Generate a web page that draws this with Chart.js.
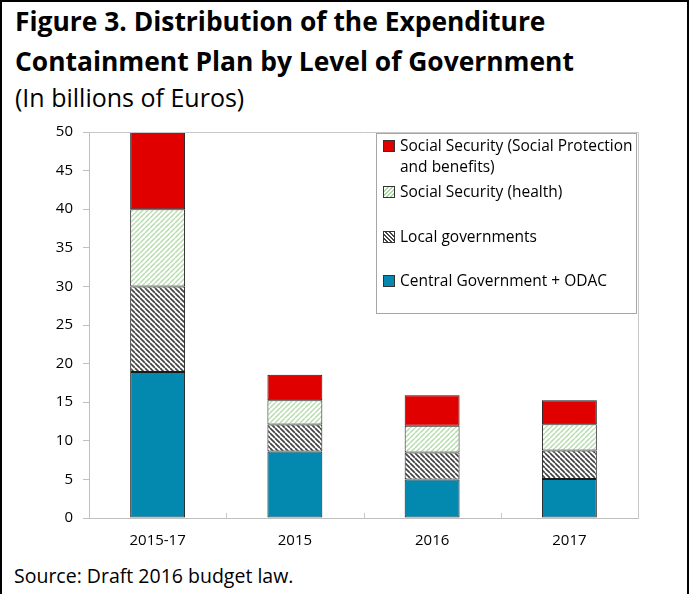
<!DOCTYPE html>
<html>
<head>
<meta charset="utf-8">
<script src="https://cdn.jsdelivr.net/npm/chart.js@4"></script>
<style>
  html, body { margin: 0; padding: 0; background: #fff; }
  #frame {
    position: relative; width: 689px; height: 594px; box-sizing: border-box;
    border-top: 2px solid #000; border-left: 2px solid #000; border-right: 2px solid #000;
    font-family: "Open Sans", "Noto Sans", sans-serif; color: #000; overflow: hidden;
  }
  .title { position: absolute; left: 13px; top: -1px; font-size: 26.4px; font-weight: bold; line-height: 40px; }
  .sub { position: absolute; left: 13px; top: 78px; font-size: 25px; }
  .source { position: absolute; left: 12px; top: 560px; font-size: 19.5px; }
  #wrap { position: absolute; left: -2px; top: 111px; width: 689px; height: 443px; }
  #legend {
    position: absolute; left: 374px; top: 131px; width: 261px; height: 181px;
    border: 1px solid #a6a6a6; background: #fff; font-size: 15.5px; box-sizing: border-box;
  }
  .item { position: absolute; left: 6px; display: flex; align-items: flex-start; line-height: 21px; }
  .sw { width: 10px; height: 10px; border: 1px solid #333; margin-top: 5px; margin-right: 5px; flex: none; }
</style>
</head>
<body>
<div id="frame">
  <div class="title">Figure 3. Distribution of the Expenditure<br>Containment Plan by Level of Government</div>
  <div class="sub">(In billions of Euros)</div>
  <div id="wrap"><canvas id="chart" width="689" height="443"></canvas></div>
  <div id="legend"></div>
  <div class="source">Source: Draft 2016 budget law.</div>
</div>
<script>
const categories = ['2015-17', '2015', '2016', '2017'];
const centralGov = [18.9, 8.6, 5.0, 5.05];
const localGov = [11.1, 3.5, 3.5, 3.7];
const socialHealth = [10, 3.15, 3.45, 3.4];
const socialProtection = [10, 3.3, 3.95, 3.1];
const yTicks = [0, 5, 10, 15, 20, 25, 30, 35, 40, 45, 50];

function stripes(color, dir, w) {
  const c = document.createElement('canvas');
  c.width = 5; c.height = 5;
  const g = c.getContext('2d');
  g.fillStyle = '#fff';
  g.fillRect(0, 0, 5, 5);
  g.strokeStyle = color;
  g.lineWidth = w;
  for (let k = -1; k <= 1; k++) {
    g.beginPath();
    if (dir > 0) { g.moveTo(k * 5, 5); g.lineTo(k * 5 + 5, 0); }
    else { g.moveTo(k * 5, 0); g.lineTo(k * 5 + 5, 5); }
    g.stroke();
  }
  return g.createPattern(c, 'repeat');
}

const ctx = document.getElementById('chart').getContext('2d');

const frameLines = {
  id: 'frameLines',
  afterDatasetsDraw(chart) {
    const a = chart.chartArea, g = chart.ctx;
    g.save();
    g.strokeStyle = '#c8c8c8';
    g.lineWidth = 1;
    g.beginPath();
    g.moveTo(a.left, a.top + 0.5); g.lineTo(a.right + 0.5, a.top + 0.5); g.lineTo(a.right + 0.5, a.bottom);
    g.stroke();
    // small inward ticks between categories
    const step = (a.right - a.left) / categories.length;
    g.beginPath();
    for (let i = 1; i < categories.length; i++) {
      const px = Math.round(a.left + step * i) + 0.5;
      g.moveTo(px, a.bottom); g.lineTo(px, a.bottom - 5);
    }
    g.stroke();
    g.restore();
  }
};

const datasets = [
  { label: 'Central Government + ODAC', data: centralGov, backgroundColor: '#0389B0', swatch: '#0389B0' },
  { label: 'Local governments', data: localGov, backgroundColor: stripes('#444', -1, 1.7),
    swatch: 'repeating-linear-gradient(45deg,#fff 0 1.5px,#444 1.5px 3px)' },
  { label: 'Social Security (health)', data: socialHealth, backgroundColor: stripes('#b3dcab', 1, 1.4),
    swatch: 'repeating-linear-gradient(-45deg,#fff 0 1.5px,#a9d7a0 1.5px 3px)' },
  { label: 'Social Security (Social Protection and benefits)', data: socialProtection, backgroundColor: '#E00000', swatch: '#E00000' },
];

new Chart(ctx, {
  type: 'bar',
  data: {
    labels: categories,
    datasets: datasets.map(d => ({
      label: d.label, data: d.data, backgroundColor: d.backgroundColor,
      borderColor: '#1a1a1a', borderWidth: 1, borderSkipped: false,
      barPercentage: 0.4, categoryPercentage: 1,
    })),
  },
  options: {
    responsive: false,
    animation: false,
    layout: { padding: { top: 8, right: 51, bottom: 0, left: 0 } },
    plugins: { legend: { display: false }, tooltip: { enabled: false } },
    scales: {
      x: {
        stacked: true,
        grid: { display: false },
        border: { color: '#bfbfbf', width: 1 },
        ticks: { color: '#000', font: { family: 'Open Sans', size: 15 }, padding: 6 },
      },
      y: {
        stacked: true,
        min: 0, max: 50,
        afterFit(s) { s.width = 89; },
        afterBuildTicks(s) { s.ticks = yTicks.map(v => ({ value: v })); },
        grid: { drawOnChartArea: false, drawTicks: true, tickLength: 6, color: '#bfbfbf' },
        border: { color: '#bfbfbf', width: 1 },
        ticks: { color: '#000', font: { family: 'Open Sans', size: 15 }, padding: 10 },
      },
    },
  },
  plugins: [frameLines],
});

// legend, listed top to bottom in reverse stack order
const legendTops = [1, 47, 92, 136];
const legend = document.getElementById('legend');
datasets.slice().reverse().forEach((d, i) => {
  const it = document.createElement('div');
  it.className = 'item';
  it.style.top = legendTops[i] + 'px';
  const sw = document.createElement('span');
  sw.className = 'sw';
  sw.style.background = d.swatch;
  const tx = document.createElement('span');
  tx.textContent = d.label;
  if (i === 0) tx.style.width = '238px';
  it.appendChild(sw); it.appendChild(tx);
  legend.appendChild(it);
});
</script>
</body>
</html>
